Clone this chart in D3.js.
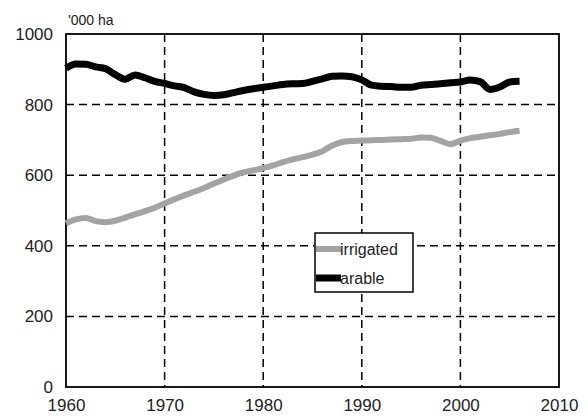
<!DOCTYPE html>
<html><head><meta charset="utf-8">
<script src="https://cdn.jsdelivr.net/npm/d3@7"></script>
<style>body{margin:0;background:#fff}svg{display:block;font-family:"Liberation Sans",Arial,sans-serif}</style>
</head><body>
<svg id="c" width="588" height="419"></svg>
<script>
const years = d3.range(1960, 2007);
const arable = [903,915,914,907,902,885,872,884,876,866,860,853,848,836,829,826,828,834,840,845,849,853,857,859,860,866,873,880,881,879,870,855,852,851,849,849,855,857,859,862,864,870,865,843,850,864,866];
const irrigated = [464,475,479,470,467,471,480,489,498,508,520,532,543,553,564,576,588,599,608,614,620,628,637,645,651,658,668,684,694,697,698,699,700,701,702,703,707,706,697,688,698,705,709,713,717,722,726];
const xTicks = [1960,1970,1980,1990,2000,2010];
const yTicks = [0,200,400,600,800,1000];
const seriesNames = ["irrigated","arable"];
const unitLabel = "'000 ha";

const svg = d3.select("#c");
const L=66,R=559,T=34,B=387;
const x = d3.scaleLinear().domain([1960,2010]).range([L,R]);
const y = d3.scaleLinear().domain([0,1000]).range([B,T]);

// grid
const g = svg.append("g");
g.selectAll(".vg").data(xTicks.filter(d=>d>1960&&d<2010)).join("line")
  .attr("x1",d=>x(d)).attr("x2",d=>x(d)).attr("y1",T).attr("y2",B)
  .attr("stroke","#000").attr("stroke-width",1.5).attr("stroke-dasharray","8,5");
g.selectAll(".hg").data(yTicks.filter(d=>d>0&&d<1000)).join("line")
  .attr("x1",L).attr("x2",R).attr("y1",d=>y(d)).attr("y2",d=>y(d))
  .attr("stroke","#000").attr("stroke-width",1.5).attr("stroke-dasharray","8,5");

// frame
svg.append("rect").attr("x",L).attr("y",T).attr("width",R-L).attr("height",B-T)
  .attr("fill","none").attr("stroke","#000").attr("stroke-width",1.8);

// axes
const xa = svg.append("g").attr("transform",`translate(0,${B})`)
  .call(d3.axisBottom(x).tickValues(xTicks).tickFormat(d3.format("d")).tickSize(0).tickPadding(12));
const ya = svg.append("g").attr("transform",`translate(${L},0)`)
  .call(d3.axisLeft(y).tickValues(yTicks).tickFormat(d3.format("d")).tickSize(0).tickPadding(13));
[xa,ya].forEach(a=>{a.select(".domain").remove();a.selectAll("text").attr("font-size",17).attr("fill","#222").attr("font-family","'Liberation Sans',Arial,sans-serif");});

svg.append("text").attr("x",68).attr("y",25).attr("font-size",14).attr("fill","#222").text(unitLabel);

// lines
const line = d3.line().x((d,i)=>x(years[i])).y(d=>y(d)).curve(d3.curveMonotoneX);
svg.append("path").datum(irrigated).attr("d",line).attr("fill","none")
  .attr("stroke","#a3a3a3").attr("stroke-width",6).attr("stroke-linejoin","round");
svg.append("path").datum(arable).attr("d",line).attr("fill","none")
  .attr("stroke","#000").attr("stroke-width",7).attr("stroke-linejoin","round");

// legend
const lg = svg.append("g");
lg.append("rect").attr("x",315).attr("y",233).attr("width",98).attr("height",59)
  .attr("fill","#fff").attr("stroke","#000").attr("stroke-width",1.5);
const colors = ["#a3a3a3","#000"];
const widths = [6,7];
seriesNames.forEach((n,i)=>{
  const yy = 249 + i*29;
  lg.append("line").attr("x1",316).attr("x2",341).attr("y1",yy).attr("y2",yy)
    .attr("stroke",colors[i]).attr("stroke-width",widths[i]);
  lg.append("text").attr("x",340).attr("y",yy+6).attr("font-size",16).attr("fill","#222").text(n);
});
</script>
</body></html>
